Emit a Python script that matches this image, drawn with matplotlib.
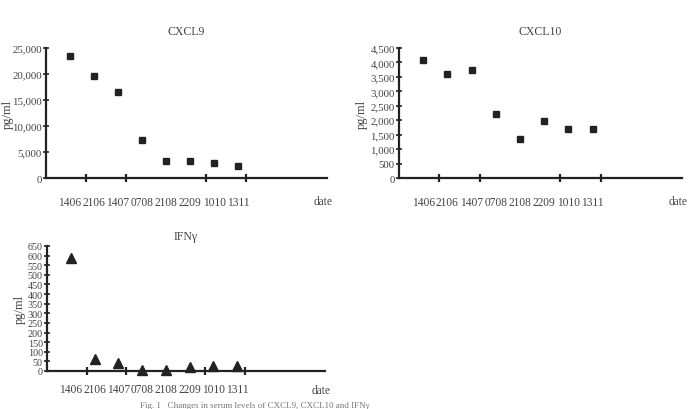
import matplotlib.pyplot as plt

dates = ["1406", "2106", "1407", "0708", "2108", "2209", "1010", "1311"]
cxcl9 = [23400, 19600, 16600, 7400, 3250, 3250, 2800, 2300]
cxcl10 = [4100, 3600, 3750, 2230, 1350, 1970, 1700, 1700]
ifng = [585, 62, 40, 4, 5, 22, 28, 27]

cxcl9_ticks = [0, 5000, 10000, 15000, 20000, 25000]
cxcl10_ticks = list(range(0, 4501, 500))
ifng_ticks = list(range(0, 651, 50))

plt.rcParams["font.family"] = ["Liberation Serif", "DejaVu Serif"]
INK = "#222222"
TXT = "#444444"


def fmt(v):
    return f"{v:,}"


def panel(ax, values, yticks, title, marker, ms, yfs=7.8, tpad=10, xpad=13,
          date_y=-0.175, ylab_x=None):
    xs = list(range(1, len(values) + 1))
    ax.plot(xs, values, linestyle="none", marker=marker, markersize=ms,
            color=INK, clip_on=False)
    ax.set_xlim(0, 11.7)
    ax.set_ylim(0, yticks[-1])
    for side in ("top", "right"):
        ax.spines[side].set_visible(False)
    for side in ("left", "bottom"):
        ax.spines[side].set_linewidth(1.6)
        ax.spines[side].set_color(INK)
    ax.set_yticks(yticks)
    ax.set_yticklabels([fmt(v) if v >= 1000 else str(v) for v in yticks],
                       fontsize=yfs, color=TXT)
    ax.tick_params(axis="y", direction="inout", length=4, width=1.2,
                   color=INK, pad=1)
    # date labels below the axis, small crossing ticks between them
    ax.set_xticks(xs)
    ax.set_xticklabels(dates, fontsize=8.3, color=TXT)
    ax.tick_params(axis="x", which="major", length=0, pad=xpad)
    ax.set_xticks([5 / 3 * k for k in range(1, 6)], minor=True)
    ax.tick_params(axis="x", which="minor", direction="inout", length=6,
                   width=1.6, color=INK)
    ax.set_title(title, fontsize=8.5, color=TXT, pad=tpad)
    ax.set_ylabel("pg/ml", fontsize=9, color=TXT, labelpad=1)
    if ylab_x is not None:
        ax.yaxis.set_label_coords(ylab_x, 0.5)
    ax.text(0.986, date_y, "date", transform=ax.transAxes, fontsize=8.3,
            color=TXT, ha="center", va="center")


fig = plt.figure(figsize=(6.9, 4.1), dpi=100)

ax1 = fig.add_axes([0.0667, 0.5634, 0.4072, 0.3171])
panel(ax1, cxcl9, cxcl9_ticks, "CXCL9", "s", 4.3, ylab_x=-0.113)

ax2 = fig.add_axes([0.5783, 0.5634, 0.4101, 0.3171])
panel(ax2, cxcl10, cxcl10_ticks, "CXCL10", "s", 4.3, ylab_x=-0.11)

ax3 = fig.add_axes([0.0681, 0.0927, 0.4029, 0.3049])
panel(ax3, ifng, ifng_ticks, "IFNγ", "^", 6.5, yfs=7.3, tpad=5, xpad=9,
      date_y=-0.15)

fig.text(140 / 690, 0.0,
         "Fig. 1   Changes in serum levels of CXCL9, CXCL10 and IFNγ",
         fontsize=6.5, color="#777777", ha="left", va="bottom")

fig.savefig("out.png", dpi=100)
